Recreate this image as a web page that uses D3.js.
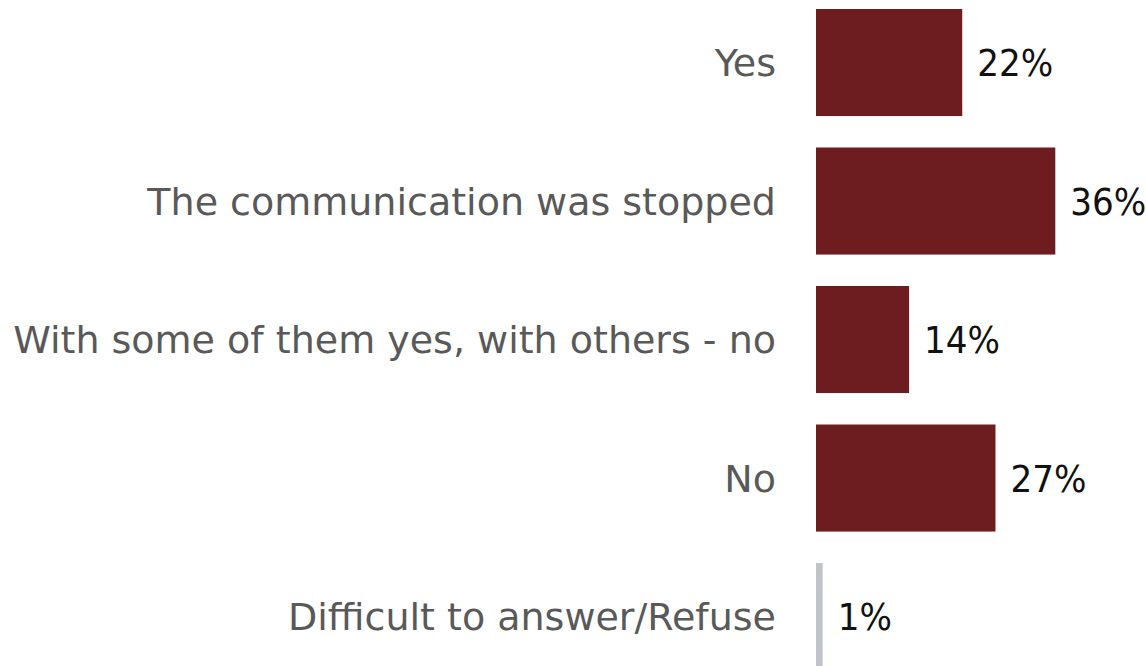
<!DOCTYPE html>
<html>
<head>
<meta charset="utf-8">
<script src="https://cdn.jsdelivr.net/npm/d3@7"></script>
<style>
  html, body { margin: 0; padding: 0; background: #fff; overflow: hidden; }
  svg { display: block; }
  .cat { font-family: "DejaVu Sans", sans-serif; }
  .val { font-family: "DejaVu Sans Condensed", "DejaVu Sans", sans-serif; }
</style>
</head>
<body>
<svg id="chart" width="1146" height="666"></svg>
<script>
// Survey answers and their shares (%)
const categories = [
  "Yes",
  "The communication was stopped",
  "With some of them yes, with others - no",
  "No",
  "Difficult to answer/Refuse"
];
const values = [22, 36, 14, 27, 1];
const valueLabels = ["22%", "36%", "14%", "27%", "1%"];
const barColors = ["#6d1c20", "#6d1c20", "#6d1c20", "#6d1c20", "#bfc4c9"];

const svg = d3.select("#chart");
const barLeft = 816;

// Horizontal value scale: percent -> pixels
const x = d3.scaleLinear().domain([0, 36]).range([barLeft, barLeft + 239.3]);

// Vertical band scale for the answers
const step = 138.5;
const padInner = 0.227;
const y0 = 9 - step * padInner / 2;
const y = d3.scaleBand()
  .domain(categories)
  .range([y0, y0 + step * categories.length])
  .paddingInner(padInner)
  .paddingOuter(padInner / 2);

const rows = svg.selectAll("g.row")
  .data(categories.map((c, i) => ({ c, v: values[i], lab: valueLabels[i], col: barColors[i] })))
  .join("g")
  .attr("class", "row");

rows.append("rect")
  .attr("x", x(0))
  .attr("y", d => y(d.c))
  .attr("width", d => x(d.v) - x(0))
  .attr("height", y.bandwidth())
  .attr("fill", d => d.col);

// Category labels to the left of the bars
rows.append("text")
  .attr("class", "cat")
  .attr("x", barLeft - 40)
  .attr("y", d => y(d.c) + y.bandwidth() / 2)
  .attr("dy", "0.36em")
  .attr("text-anchor", "end")
  .attr("fill", "#595959")
  .style("font-size", "38px")
  .text(d => d.c);

// Value labels to the right of the bars
rows.append("text")
  .attr("class", "val")
  .attr("x", d => x(d.v) + 15)
  .attr("y", d => y(d.c) + y.bandwidth() / 2)
  .attr("dy", "0.36em")
  .attr("fill", "#111")
  .style("font-size", "38px")
  .text(d => d.lab);
</script>
</body>
</html>
